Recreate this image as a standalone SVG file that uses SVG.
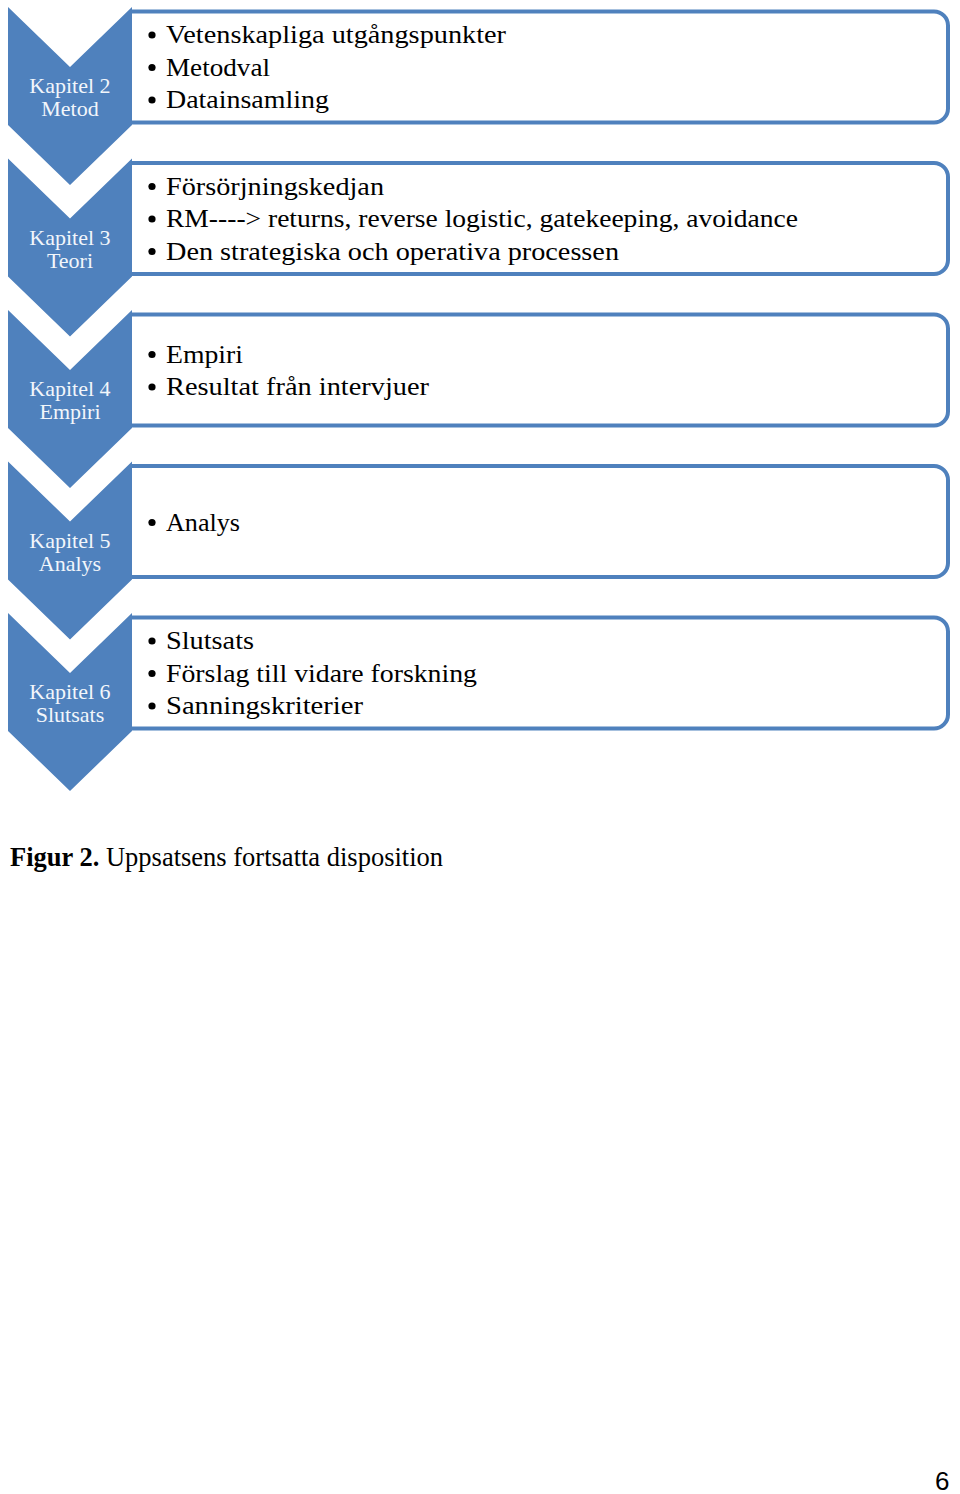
<svg xmlns="http://www.w3.org/2000/svg" width="960" height="1494" viewBox="0 0 960 1494">
<style>
.chev{fill:#4f81bd}
.box{fill:#fff;stroke:#4f81bd;stroke-width:4}
.lbl{font-family:"Liberation Serif","DejaVu Serif",serif;font-size:22px;fill:#f2f6fb;text-anchor:middle}
.item{font-family:"Liberation Serif","DejaVu Serif",serif;font-size:25px;fill:#000}
.cap{font-family:"Liberation Serif",serif;font-size:26.5px;fill:#000}
.pg{font-family:"Liberation Sans",sans-serif;font-size:26px;fill:#000}
</style>
<defs>
<path id="chevShape" d="M8,0 L70,60 L132,0 L132,118 L70,178 L8,118 Z"/>
<path id="boxShape" d="M132,0 H934 A14,14 0 0 1 948,14 V97 A14,14 0 0 1 934,111 H132"/>
</defs>
<rect width="960" height="1494" fill="#fff"/>

<g id="node-kap2">
<use href="#boxShape" class="box" transform="translate(0,11.5)"/>
<use href="#chevShape" class="chev" transform="translate(0,7)"/>
<text class="lbl" x="70" y="93">Kapitel 2</text>
<text class="lbl" x="70" y="116">Metod</text>
<circle cx="152" cy="35" r="3.6"/><text class="item" x="166" y="43" textLength="340" lengthAdjust="spacingAndGlyphs">Vetenskapliga utgångspunkter</text>
<circle cx="152" cy="67.5" r="3.6"/><text class="item" x="166" y="75.5" textLength="104" lengthAdjust="spacingAndGlyphs">Metodval</text>
<circle cx="152" cy="100" r="3.6"/><text class="item" x="166" y="108" textLength="163" lengthAdjust="spacingAndGlyphs">Datainsamling</text>
</g>

<g id="node-kap3">
<use href="#boxShape" class="box" transform="translate(0,163)"/>
<use href="#chevShape" class="chev" transform="translate(0,158.5)"/>
<text class="lbl" x="70" y="244.5">Kapitel 3</text>
<text class="lbl" x="70" y="267.5">Teori</text>
<circle cx="152" cy="186.5" r="3.6"/><text class="item" x="166" y="194.5" textLength="218" lengthAdjust="spacingAndGlyphs">Försörjningskedjan</text>
<circle cx="152" cy="219" r="3.6"/><text class="item" x="166" y="227" textLength="632" lengthAdjust="spacingAndGlyphs">RM----&gt; returns, reverse logistic, gatekeeping, avoidance</text>
<circle cx="152" cy="251.5" r="3.6"/><text class="item" x="166" y="259.5" textLength="453" lengthAdjust="spacingAndGlyphs">Den strategiska och operativa processen</text>
</g>

<g id="node-kap4">
<use href="#boxShape" class="box" transform="translate(0,314.5)"/>
<use href="#chevShape" class="chev" transform="translate(0,310)"/>
<text class="lbl" x="70" y="396">Kapitel 4</text>
<text class="lbl" x="70" y="419">Empiri</text>
<circle cx="152" cy="354.5" r="3.6"/><text class="item" x="166" y="362.5" textLength="77" lengthAdjust="spacingAndGlyphs">Empiri</text>
<circle cx="152" cy="387" r="3.6"/><text class="item" x="166" y="395" textLength="263" lengthAdjust="spacingAndGlyphs">Resultat från intervjuer</text>
</g>

<g id="node-kap5">
<use href="#boxShape" class="box" transform="translate(0,466)"/>
<use href="#chevShape" class="chev" transform="translate(0,461.5)"/>
<text class="lbl" x="70" y="547.5">Kapitel 5</text>
<text class="lbl" x="70" y="570.5">Analys</text>
<circle cx="152" cy="522.5" r="3.6"/><text class="item" x="166" y="530.5" textLength="74" lengthAdjust="spacingAndGlyphs">Analys</text>
</g>

<g id="node-kap6">
<use href="#boxShape" class="box" transform="translate(0,617.5)"/>
<use href="#chevShape" class="chev" transform="translate(0,613)"/>
<text class="lbl" x="70" y="699">Kapitel 6</text>
<text class="lbl" x="70" y="722">Slutsats</text>
<circle cx="152" cy="641" r="3.6"/><text class="item" x="166" y="649" textLength="88" lengthAdjust="spacingAndGlyphs">Slutsats</text>
<circle cx="152" cy="673.5" r="3.6"/><text class="item" x="166" y="681.5" textLength="311" lengthAdjust="spacingAndGlyphs">Förslag till vidare forskning</text>
<circle cx="152" cy="706" r="3.6"/><text class="item" x="166" y="714" textLength="197" lengthAdjust="spacingAndGlyphs">Sanningskriterier</text>
</g>

<g id="connectors"></g>

<text class="cap" x="10" y="866"><tspan font-weight="bold">Figur 2.</tspan> Uppsatsens fortsatta disposition</text>
<text class="pg" x="935" y="1490">6</text>
</svg>
